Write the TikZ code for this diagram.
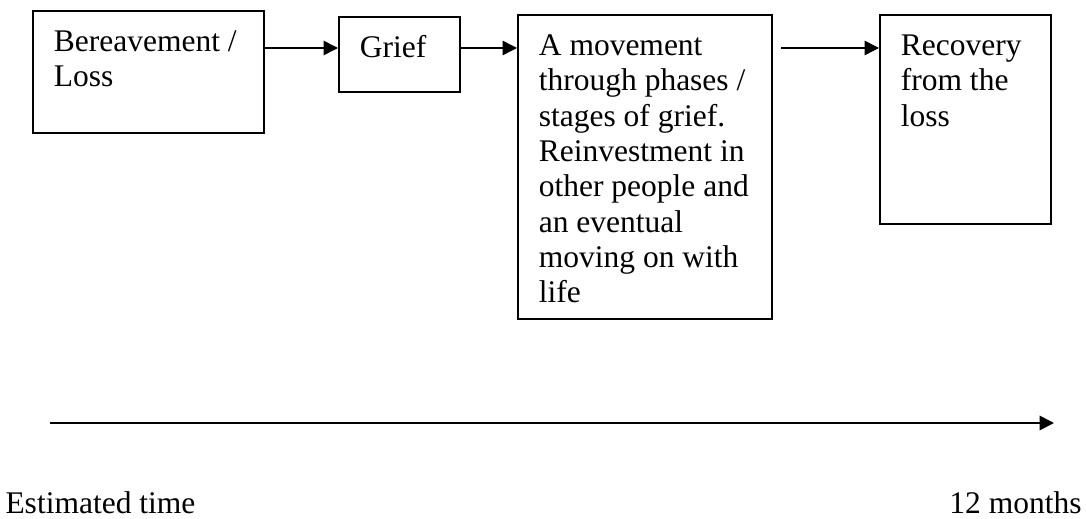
\documentclass[tikz,border=0pt]{standalone}
\usepackage{fontspec}
\setmainfont{Liberation Serif}
\usetikzlibrary{arrows.meta}

% text block of a stage box: width, height, text
\newcommand{\stagetext}[3]{\parbox[t][#2][t]{#1}{\strut #3}}

\begin{document}
\begin{tikzpicture}[x=0.4pt, y=-0.4pt,
    font=\fontsize{12.6pt}{14.12pt}\selectfont,
    stage/.style={draw, line width=0.7pt, anchor=north west, inner xsep=8.4pt, inner ysep=6.4pt},
    flow/.style={-{Triangle[length=5.8pt, width=5.8pt]}, line width=0.6pt},
    label/.style={inner sep=0pt}]
  \useasboundingbox (0,0) rectangle (1086,519);

  % Stages
  \node[stage] (loss) at (32,10) {\stagetext{75.6pt}{36pt}{Bereavement /\\ Loss}};
  \node[stage] (grief) at (338,16) {\stagetext{31.6pt}{17.2pt}{Grief}};
  \node[stage] (phases) at (517,14) {\stagetext{84.8pt}{108.8pt}{A movement\\ through phases /\\ stages of grief.\\ Reinvestment in\\ other people and\\ an eventual\\ moving on with\\ life}};
  \node[stage] (recovery) at (879,14) {\stagetext{51.6pt}{70.8pt}{Recovery\\ from the\\ loss}};

  % Arrows between stages
  \coordinate (row) at (0,48);
  \draw[flow] (loss.east |- row) -- (grief.west |- row);
  \draw[flow] (grief.east |- row) -- (phases.west |- row);
  \draw[flow] ([xshift=3.2pt]phases.east |- row) -- (recovery.west |- row);

  % Time line
  \coordinate (t0) at (50,423);
  \coordinate (t1) at (1054,423);
  \draw[flow, line width=0.8pt] (t0) -- (t1);
  \node[label, anchor=base west] (start) at (5,513) {Estimated time};
  \node[label, anchor=base east] (end) at (1082,513) {12 months};
\end{tikzpicture}
\end{document}
